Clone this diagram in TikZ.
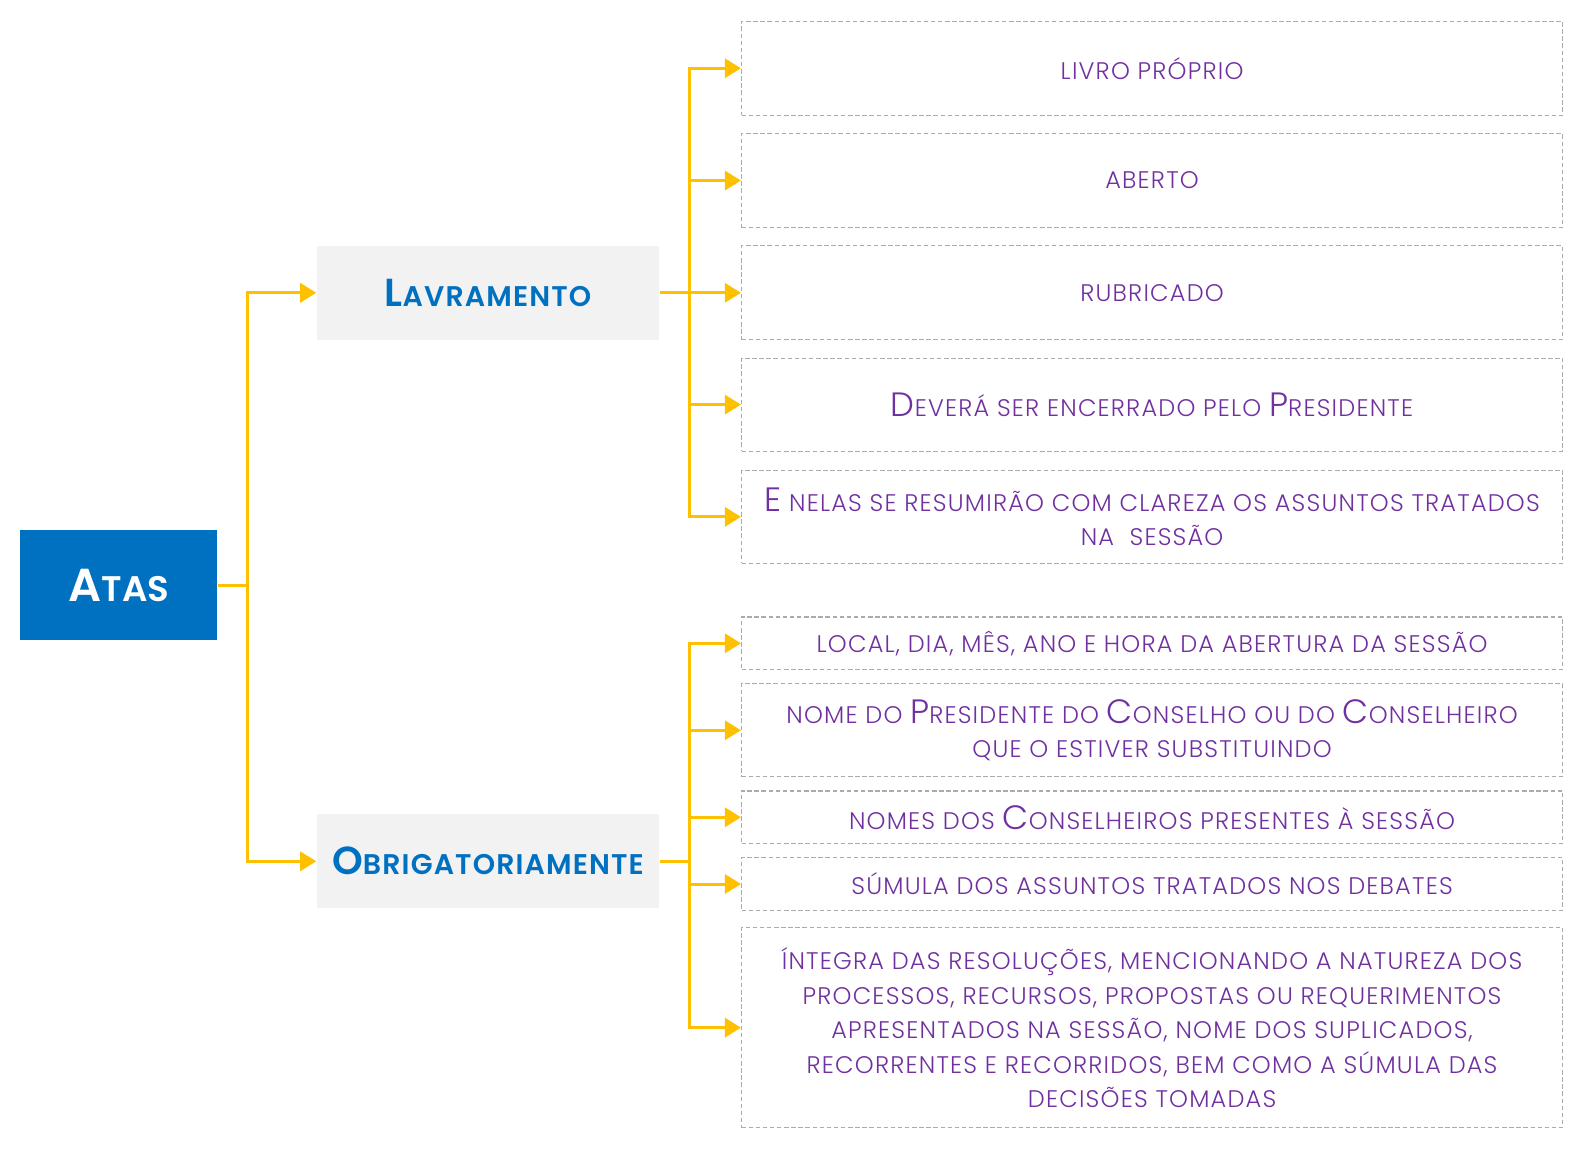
\documentclass[tikz,border=0pt]{standalone}
\usepackage{fontspec}
\setmainfont{Poppins}[BoldFont={Poppins SemiBold}]
\newfontfamily\lightfont{Poppins Light}[LetterSpace=5]
\usepackage{xcolor}
\usepackage{tikz}
\usetikzlibrary{arrows.meta, positioning}
\definecolor{atasblue}{HTML}{0070C0}
\definecolor{leafpurple}{HTML}{7030A0}
\definecolor{linegold}{HTML}{FFC000}
\definecolor{headgray}{HTML}{F2F2F2}
\definecolor{dashgray}{HTML}{ABABAB}
\newcommand{\leafcap}[1]{{\fontsize{19}{19.4}\selectfont #1}}
\newcommand{\headcap}[1]{{\fontsize{22}{24}\selectfont #1}}
\tikzstyle{headbox} = [
    rectangle,
    fill=headgray,
    text=atasblue,
    minimum width=6.78cm,
    minimum height=1.86cm,
    inner sep=0pt,
    font=\fontsize{16}{18}\selectfont\bfseries\addfontfeatures{LetterSpace=4}
]
\tikzstyle{leafbox} = [
    rectangle,
    draw=dashgray,
    line width=0.6pt,
    dash pattern=on 2.5pt off 1.5pt,
    text=leafpurple,
    align=center,
    minimum width=16.24cm,
    inner sep=0pt,
    font=\lightfont\fontsize{13.5}{19.4}\selectfont
]
\tikzstyle{flowline} = [draw=linegold, line width=1.7pt]
\tikzstyle{flowarrow} = [flowline, -{Triangle[length=0.32cm, width=0.38cm]}]

\begin{document}
\begin{tikzpicture}[x=0.02cm, y=-0.02cm]
    \useasboundingbox (0,0) rectangle (1568,1138);
    % Hauptknoten
    \node (atas) [rectangle, fill=atasblue, text=white, minimum width=3.9cm, minimum height=2.18cm,
        inner sep=0pt, font=\fontsize{20}{22}\selectfont\bfseries] at (117.5,578.5) {{\fontsize{26}{26}\selectfont A}TAS};
    \node (lavr) [headbox] at (482.5,289.5) {\headcap{L}AVRAMENTO};
    \node (obrig) [headbox] at (482.5,851.5) {\headcap{O}BRIGATORIAMENTE};
    % Kästen rechts
    \node (leaf1) [leafbox, minimum height=1.86cm] at (1139,67.5) {LIVRO PRÓPRIO};
    \node (leaf2) [leafbox, minimum height=1.86cm] at (1139,178.5) {ABERTO};
    \node (leaf3) [leafbox, minimum height=1.86cm] at (1139,289.5) {RUBRICADO};
    \node (leaf4) [leafbox, minimum height=1.84cm] at (1139,400) {\leafcap{D}EVERÁ SER ENCERRADO PELO \leafcap{P}RESIDENTE};
    \node (leaf5) [leafbox, minimum height=1.84cm] at (1139,511) {\leafcap{E} NELAS SE RESUMIRÃO COM CLAREZA OS ASSUNTOS TRATADOS\\NA\ \ SESSÃO};
    \node (leaf6) [leafbox, minimum height=1.04cm] at (1139,636) {LOCAL, DIA, MÊS, ANO E HORA DA ABERTURA DA SESSÃO};
    \node (leaf7) [leafbox, minimum height=1.84cm] at (1139,722) {NOME DO \leafcap{P}RESIDENTE DO \leafcap{C}ONSELHO OU DO \leafcap{C}ONSELHEIRO\\QUE O ESTIVER SUBSTITUINDO};
    \node (leaf8) [leafbox, minimum height=1.04cm] at (1139,808) {NOMES DOS \leafcap{C}ONSELHEIROS PRESENTES À SESSÃO};
    \node (leaf9) [leafbox, minimum height=1.04cm] at (1139,874) {SÚMULA DOS ASSUNTOS TRATADOS NOS DEBATES};
    \node (leaf10) [leafbox, minimum height=3.96cm] at (1139,1016) {ÍNTEGRA DAS RESOLUÇÕES, MENCIONANDO A NATUREZA DOS\\PROCESSOS, RECURSOS, PROPOSTAS OU REQUERIMENTOS\\APRESENTADOS NA SESSÃO, NOME DOS SUPLICADOS,\\RECORRENTES E RECORRIDOS, BEM COMO A SÚMULA DAS\\DECISÕES TOMADAS};
    % Verzweigungen
    \coordinate (atasfork) at (245,578.5);
    \coordinate (lavrfork) at (682,289.5);
    \coordinate (obrigfork) at (682,851.5);
    % Pfeile
    \draw [flowline] (atas.east) -- (atasfork);
    \draw [flowarrow] (atasfork) |- (lavr.west);
    \draw [flowarrow] (atasfork) |- (obrig.west);
    \draw [flowline] (lavr.east) -- (lavrfork);
    \foreach \i in {1,...,5}
        \draw [flowarrow] (lavrfork) |- (leaf\i.west);
    \draw [flowline] (obrig.east) -- (obrigfork);
    \foreach \i in {6,...,10}
        \draw [flowarrow] (obrigfork) |- (leaf\i.west);
\end{tikzpicture}
\end{document}
